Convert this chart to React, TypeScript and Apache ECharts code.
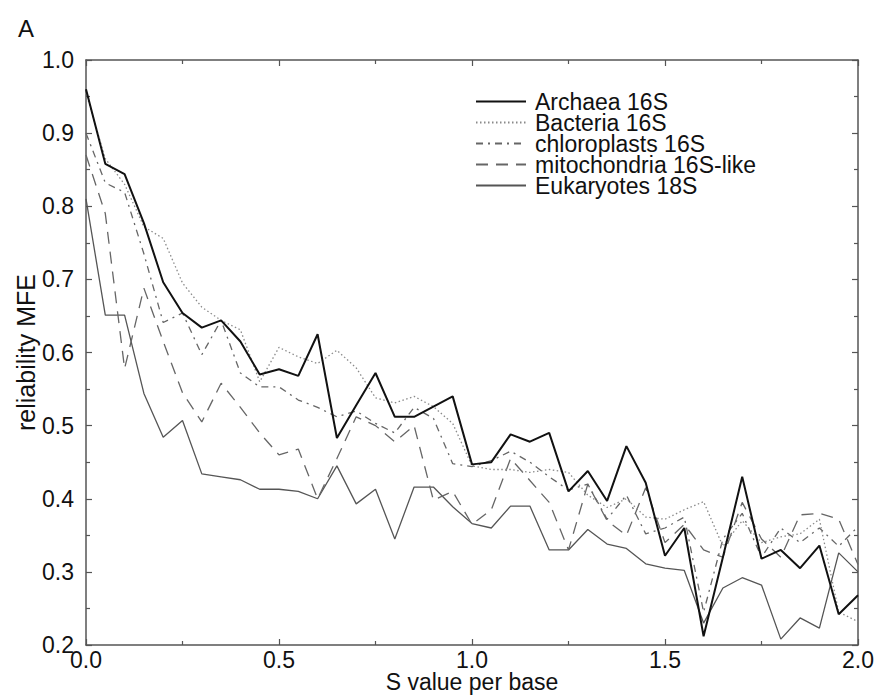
import React, { useEffect, useRef } from "react";
import * as echarts from "echarts";

const sValues = [
  0, 0.05, 0.1, 0.15, 0.2, 0.25, 0.3, 0.35, 0.4, 0.45, 0.5, 0.55, 0.6, 0.65, 0.7, 0.75, 0.8, 0.85, 0.9, 0.95,
  1.0, 1.05, 1.1, 1.15, 1.2, 1.25, 1.3, 1.35, 1.4, 1.45, 1.5, 1.55, 1.6, 1.65, 1.7, 1.75, 1.8, 1.85, 1.9, 1.95, 2.0,
];

const archaea = [
  0.96, 0.858, 0.844, 0.777, 0.696, 0.654, 0.634, 0.644, 0.615, 0.57, 0.577, 0.568, 0.625, 0.483, 0.528, 0.572,
  0.512, 0.512, 0.526, 0.54, 0.447, 0.45, 0.488, 0.478, 0.49, 0.41, 0.438, 0.397, 0.472, 0.422, 0.322, 0.36, 0.212,
  0.32, 0.43, 0.318, 0.33, 0.305, 0.336, 0.242, 0.268,
];

const bacteria = [
  0.955, 0.865, 0.83, 0.772, 0.756, 0.695, 0.662, 0.644, 0.631, 0.56, 0.607, 0.594, 0.585, 0.603, 0.579, 0.538,
  0.531, 0.54, 0.526, 0.503, 0.445, 0.44, 0.44, 0.436, 0.44, 0.436, 0.405, 0.388, 0.4, 0.375, 0.372, 0.385, 0.396,
  0.335, 0.37, 0.34, 0.348, 0.352, 0.372, 0.245, 0.232,
];

const chloroplasts = [
  0.9, 0.832, 0.819, 0.735, 0.641, 0.654, 0.597, 0.644, 0.572, 0.553, 0.553, 0.535, 0.525, 0.512, 0.52, 0.503,
  0.49, 0.525, 0.51, 0.448, 0.444, 0.452, 0.465, 0.45, 0.43, 0.412, 0.42, 0.372, 0.405, 0.352, 0.36, 0.375, 0.245,
  0.345, 0.38, 0.32, 0.36, 0.34, 0.36, 0.335, 0.362,
];

const mitochondria = [
  0.87, 0.79, 0.578, 0.688, 0.615, 0.545, 0.505, 0.558, 0.525, 0.49, 0.46, 0.468, 0.4, 0.455, 0.512, 0.5, 0.478,
  0.5, 0.398, 0.41, 0.365, 0.385, 0.455, 0.425, 0.395, 0.33, 0.42, 0.37, 0.35, 0.415, 0.34, 0.365, 0.33, 0.32,
  0.395, 0.345, 0.32, 0.378, 0.38, 0.372, 0.31,
];

const eukaryotes = [
  0.81, 0.651, 0.651, 0.544, 0.484, 0.507, 0.434, 0.43, 0.426, 0.413, 0.413, 0.41, 0.4, 0.445, 0.393, 0.413, 0.345,
  0.416, 0.416, 0.389, 0.366, 0.36, 0.39, 0.39, 0.33, 0.33, 0.358, 0.338, 0.332, 0.311, 0.305, 0.302, 0.23, 0.278,
  0.292, 0.282, 0.208, 0.237, 0.223, 0.326, 0.3,
];

const seriesNames = [
  "Archaea 16S",
  "Bacteria 16S",
  "chloroplasts 16S",
  "mitochondria 16S-like",
  "Eukaryotes 18S",
];

const FONT = "'Liberation Sans', Arial, Helvetica, sans-serif";

export default function App() {
  const ref = useRef<HTMLDivElement>(null);

  useEffect(() => {
    document.body.style.margin = "0";
    const chart = echarts.init(ref.current!, null, { renderer: "svg" });
    const toPairs = (arr: number[]) => sValues.map((x, i) => [x, arr[i]]);
    const styles: any[] = [
      { color: "#111", width: 2.0, type: "solid" },
      { color: "#8a8a8a", width: 1.3, type: [1.5, 2.5] },
      { color: "#666", width: 1.3, type: [7, 5, 2, 5] },
      { color: "#666", width: 1.3, type: [12, 8] },
      { color: "#555", width: 1.3, type: "solid" },
    ];
    const datasets = [archaea, bacteria, chloroplasts, mitochondria, eukaryotes];
    const axisLineStyle = { color: "#555", width: 1.5 };
    const baseX = {
      type: "value",
      min: 0,
      max: 2,
      interval: 0.5,
      axisLine: { show: true, onZero: false, lineStyle: axisLineStyle },
      axisTick: { show: true, inside: true, length: 6, lineStyle: { color: "#555", width: 1.2 } },
      minorTick: { show: true, splitNumber: 2, length: 4, lineStyle: { color: "#555", width: 1.2 } },
      splitLine: { show: false },
      minorSplitLine: { show: false },
    };
    const baseY = {
      type: "value",
      min: 0.2,
      max: 1.0,
      interval: 0.1,
      axisLine: { show: true, onZero: false, lineStyle: axisLineStyle },
      axisTick: { show: true, inside: true, length: 6, lineStyle: { color: "#555", width: 1.2 } },
      minorTick: { show: true, splitNumber: 2, length: 4, lineStyle: { color: "#555", width: 1.2 } },
      splitLine: { show: false },
      minorSplitLine: { show: false },
    };
    chart.setOption({
      animation: false,
      backgroundColor: "#fff",
      textStyle: { fontFamily: FONT },
      grid: { left: 86, right: 17, top: 60, bottom: 51, containLabel: false, outerBoundsMode: "none" },
      legend: {
        orient: "vertical",
        left: 470,
        top: 85,
        itemWidth: 50,
        itemHeight: 12,
        itemGap: -2,
        data: seriesNames,
        itemStyle: { opacity: 0 },
        textStyle: { fontSize: 23, fontFamily: FONT, color: "#111", padding: [0, 0, 0, 4] },
      },
      xAxis: [
        {
          ...baseX,
          position: "bottom",
          name: "S value per base",
          nameLocation: "middle",
          nameGap: 25,
          nameMoveOverlap: false,
          nameTextStyle: { fontSize: 23, fontFamily: FONT, color: "#111" },
          axisLabel: {
            show: true,
            margin: 3,
            fontSize: 23,
            fontFamily: FONT,
            color: "#111",
            formatter: (v: number) => v.toFixed(1),
          },
        },
        { ...baseX, position: "top", axisLabel: { show: false } },
      ],
      yAxis: [
        {
          ...baseY,
          position: "left",
          name: "reliability MFE",
          nameLocation: "middle",
          nameGap: 48,
          nameMoveOverlap: false,
          nameTextStyle: { fontSize: 25, fontFamily: FONT, color: "#111" },
          axisLabel: {
            show: true,
            margin: 12,
            fontSize: 23,
            fontFamily: FONT,
            color: "#111",
            formatter: (v: number) => v.toFixed(1),
          },
        },
        { ...baseY, position: "right", axisLabel: { show: false } },
      ],
      graphic: [
        {
          type: "text",
          left: 18,
          top: 16,
          style: { text: "A", fontSize: 24, fontFamily: FONT, fill: "#111" },
        },
      ],
      series: seriesNames.map((name, i) => ({
        name,
        type: "line",
        xAxisIndex: 0,
        yAxisIndex: 0,
        data: toPairs(datasets[i]),
        symbol: "none",
        showSymbol: false,
        lineStyle: styles[i],
        itemStyle: { color: styles[i].color },
        z: 10 - i,
      })),
    });
    return () => chart.dispose();
  }, []);

  return <div ref={ref} style={{ width: 875, height: 696 }} />;
}
